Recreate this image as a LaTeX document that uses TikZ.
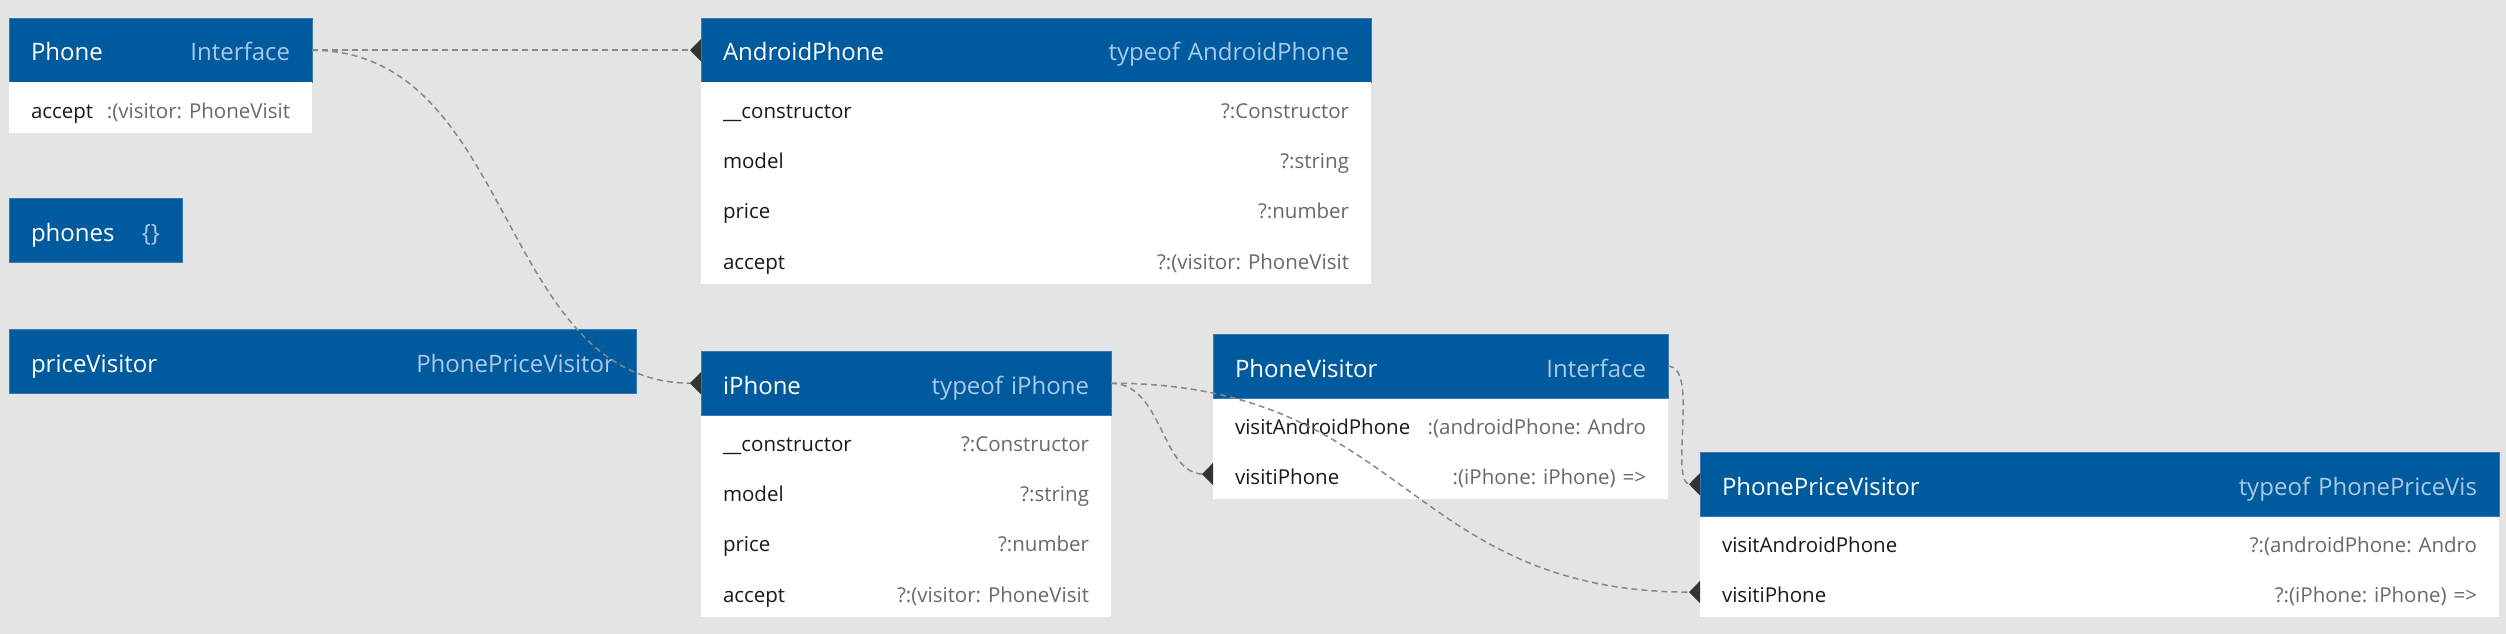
\documentclass[tikz,border=0pt]{standalone}
\usepackage{fontspec}
\setmainfont{Open Sans}
\usetikzlibrary{arrows.meta,positioning}
\definecolor{canvas}{RGB}{228,228,228}
\definecolor{headblue}{RGB}{0,90,158}
\definecolor{headedge}{RGB}{60,120,180}
\definecolor{typeblue}{RGB}{170,200,232}
\definecolor{valgray}{RGB}{105,105,105}
\definecolor{namegray}{RGB}{25,25,25}
\definecolor{linkgray}{RGB}{136,136,136}
\definecolor{tipgray}{RGB}{51,51,51}
\frenchspacing

\begin{document}
\begin{tikzpicture}[x=1pt, y=-1pt,
    head/.style={fill=headblue, draw=headedge, line width=0.8pt, text=white,
        inner xsep=22pt, inner ysep=0pt, outer sep=0pt, minimum height=64.5pt,
        text height=24pt, text depth=2.5pt, anchor=north west,
        font=\fontsize{24}{28}\selectfont},
    row/.style={fill=white, text=namegray,
        inner xsep=22pt, inner ysep=0pt, outer sep=0pt, minimum height=50.4pt,
        text height=22pt, text depth=1.4pt, below=0pt of #1,
        font=\fontsize{20.5}{24}\selectfont},
    link/.style={linkgray, line width=1.5pt, dash pattern=on 6pt off 4pt,
        -{Triangle[reversed, length=11pt, width=22pt, color=tipgray]}},
  ]
            % Frame to fix the page size:
            \fill[canvas] (0,0) rectangle (2506,634);

            % Left column
            \node[head, text width=259pt] (phonehead)   at (9,18)  {Phone\hfill\textcolor{typeblue}{Interface}};
            \node[row=phonehead, text width=259pt] (phoneaccept) {accept\hfill\textcolor{valgray}{:(visitor: PhoneVisit}};
            \node[head, text width=129pt] (phoneshead)  at (9,198) {phones\hfill\textcolor{typeblue}{\{\}}};
            \node[head, text width=583pt] (pricehead)   at (9,329) {priceVisitor\hfill\textcolor{typeblue}{PhonePriceVisitor}};

            % AndroidPhone
            \node[head, text width=626pt] (androidhead) at (701,18) {AndroidPhone\hfill\textcolor{typeblue}{typeof AndroidPhone}};
            \node[row=androidhead,  text width=626pt] (androidctor)   {\_\_constructor\hfill\textcolor{valgray}{?:Constructor}};
            \node[row=androidctor,  text width=626pt] (androidmodel)  {model\hfill\textcolor{valgray}{?:string}};
            \node[row=androidmodel, text width=626pt] (androidprice)  {price\hfill\textcolor{valgray}{?:number}};
            \node[row=androidprice, text width=626pt] (androidaccept) {accept\hfill\textcolor{valgray}{?:(visitor: PhoneVisit}};

            % iPhone
            \node[head, text width=366pt] (iphonehead) at (701,351) {iPhone\hfill\textcolor{typeblue}{typeof iPhone}};
            \node[row=iphonehead,  text width=366pt] (iphonector)   {\_\_constructor\hfill\textcolor{valgray}{?:Constructor}};
            \node[row=iphonector,  text width=366pt] (iphonemodel)  {model\hfill\textcolor{valgray}{?:string}};
            \node[row=iphonemodel, text width=366pt] (iphoneprice)  {price\hfill\textcolor{valgray}{?:number}};
            \node[row=iphoneprice, text width=366pt] (iphoneaccept) {accept\hfill\textcolor{valgray}{?:(visitor: PhoneVisit}};

            % PhoneVisitor
            \node[head, text width=411pt] (visitorhead) at (1213,334) {PhoneVisitor\hfill\textcolor{typeblue}{Interface}};
            \node[row=visitorhead,    text width=411pt] (visitorandroid) {visitAndroidPhone\hfill\textcolor{valgray}{:(androidPhone: Andro}};
            \node[row=visitorandroid, text width=411pt] (visitoriphone)  {visitiPhone\hfill\textcolor{valgray}{:(iPhone: iPhone) =>}};

            % PhonePriceVisitor
            \node[head, text width=755pt] (ppvhead) at (1700,452) {PhonePriceVisitor\hfill\textcolor{typeblue}{typeof PhonePriceVis}};
            \node[row=ppvhead,    text width=755pt] (ppvandroid) {visitAndroidPhone\hfill\textcolor{valgray}{?:(androidPhone: Andro}};
            \node[row=ppvandroid, text width=755pt] (ppviphone)  {visitiPhone\hfill\textcolor{valgray}{?:(iPhone: iPhone) =>}};

            % Links
            \draw[link] (phonehead.east) -- (androidhead.west);
            \draw[link] (phonehead.east) .. controls +(204,0) and +(-204,0) .. (iphonehead.west);
            \draw[link] (iphonehead.east) .. controls +(52,0) and +(-52,0) .. (visitoriphone.west);
            \draw[link] (iphonehead.east) .. controls +(295,0) and +(-295,0) .. (ppviphone.west);
            \draw[link] (visitorhead.east) .. controls +(32,0) and +(-32,0) .. (ppvhead.west);
\end{tikzpicture}
\end{document}
